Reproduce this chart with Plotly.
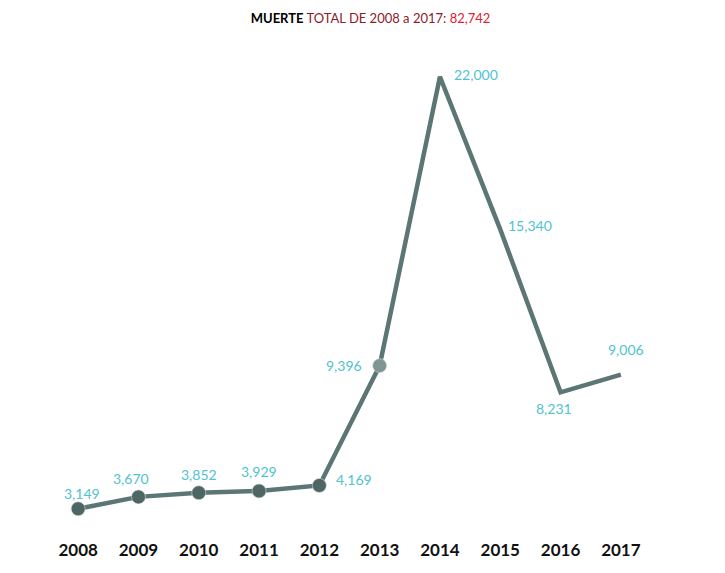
import plotly.graph_objects as go

# data
years = ["2008", "2009", "2010", "2011", "2012", "2013", "2014", "2015", "2016", "2017"]
deaths = [3149, 3670, 3852, 3929, 4169, 9396, 22000, 15340, 8231, 9006]

# label placement (pixels) around each point
label_anchor = ["center", "center", "center", "center", "left",
                "right", "left", "left", "center", "center"]
label_dx = [4, -7, 0, 0, 15, -16, 12, 6, -7, 5]
label_dy = [15, 18, 18, 19, 6, 0, 2, 4, -16, 25]

marker_sizes = [14, 14, 14, 14, 14, 14, 0, 0, 0, 0]
marker_colors = ["#4e6765"] * 5 + ["#7f9593"] + ["#4e6765"] * 4

LINE = "#5b7674"
LABEL = "#4fc3d0"

fig = go.Figure()
fig.add_trace(go.Scatter(
    x=years,
    y=deaths,
    mode="lines+markers",
    line=dict(color=LINE, width=4.5),
    marker=dict(size=marker_sizes, color=marker_colors, opacity=1,
                line=dict(color="#d8dddc", width=0.6)),
    cliponaxis=False,
    hoverinfo="x+y",
))

# annotations on a category axis take the category index
for i, v in enumerate(deaths):
    fig.add_annotation(
        x=i, y=v, text=f"{v:,}",
        showarrow=False,
        xanchor=label_anchor[i], yanchor="middle",
        xshift=label_dx[i], yshift=label_dy[i],
        font=dict(family="Lato", size=14, color=LABEL),
    )

fig.update_layout(
    width=725,
    height=573,
    paper_bgcolor="white",
    plot_bgcolor="white",
    showlegend=False,
    margin=dict(l=40, r=82, t=52, b=43),
    title=dict(
        text="<b>MUERTE</b> <span style='color:#8b1a2b'>TOTAL DE 2008 a 2017:</span> "
             "<span style='color:#e0202e'>82,742</span>",
        x=0.5,
        xref="container",
        xanchor="center",
        yref="container",
        y=0.982,
        yanchor="middle",
        font=dict(family="Lato", size=13, color="black"),
    ),
    xaxis=dict(
        type="category",
        range=[-0.5, 9.5],
        showgrid=False,
        zeroline=False,
        showline=False,
        ticks="",
        tickfont=dict(family="Lato", size=17, color="#111111", weight="bold"),
    ),
    yaxis=dict(
        range=[1876, 22731],
        visible=False,
        showgrid=False,
        zeroline=False,
    ),
)

fig.write_html("out.html")
